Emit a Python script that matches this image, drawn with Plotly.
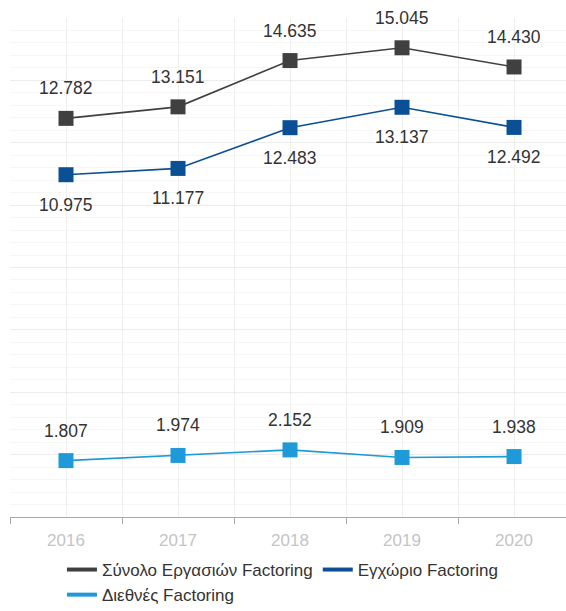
import plotly.graph_objects as go

years = ["2016", "2017", "2018", "2019", "2020"]
total = [12782, 13151, 14635, 15045, 14430]
domestic = [10975, 11177, 12483, 13137, 12492]
international = [1807, 1974, 2152, 1909, 1938]

names = ["Σύνολο Εργασιών Factoring", "Εγχώριο Factoring", "Διεθνές Factoring"]
series = [total, domestic, international]
colors = ["#404040", "#0b4f95", "#1f9ad8"]
label_shift = [30, -30, 30]

xs = list(range(len(years)))
font_family = "Liberation Sans, Arial, sans-serif"

fig = go.Figure()
for name, vals, col in zip(names, series, colors):
    fig.add_trace(go.Scatter(
        x=xs, y=vals, mode="lines+markers", name=name, showlegend=False,
        line=dict(color=col, width=1.6),
        marker=dict(symbol="square", size=15, color=col),
        hoverinfo="skip",
    ))
# legend entries (thick short lines)
for name, col in zip(names, colors):
    fig.add_trace(go.Scatter(
        x=[None], y=[None], mode="lines", name=name,
        line=dict(color=col, width=4),
    ))

annotations = []
for vals, shift in zip(series, label_shift):
    for x, v in zip(xs, vals):
        annotations.append(dict(
            x=x, y=v, xref="x", yref="y", showarrow=False,
            text=f"{v:,}".replace(",", "."), yshift=shift,
            font=dict(family=font_family, size=17.5, color="#333333"),
        ))

fig.update_layout(
    width=566, height=611,
    margin=dict(l=10, r=0, t=18, b=94),
    paper_bgcolor="white", plot_bgcolor="white",
    font=dict(family=font_family),
    annotations=annotations,
    showlegend=True,
    legend=dict(
        orientation="h", x=0.49, xanchor="center",
        yref="container", y=1 - 552 / 611, yanchor="top",
        font=dict(family=font_family, size=17, color="#333333"),
        traceorder="normal", itemwidth=30, tracegroupgap=0,
    ),
    xaxis=dict(
        range=[-0.5, 4.464], tickvals=xs, ticktext=years,
        showgrid=True, gridcolor="#efefef", gridwidth=1,
        ticks="", showline=True, linecolor="#a8a8a8", linewidth=1,
        zeroline=False,
        tickfont=dict(family=font_family, size=17, color="#c4c4c4"),
        ticklabelstandoff=8,
        minor=dict(tick0=-0.5, dtick=1, ticks="outside", ticklen=6,
                   tickcolor="#a8a8a8", showgrid=True, gridcolor="#efefef"),
    ),
    yaxis=dict(
        range=[0, 16000], dtick=2000, showticklabels=False,
        showgrid=True, gridcolor="#ececec", gridwidth=1,
        zeroline=False, showline=False, ticks="",
        minor=dict(dtick=400, showgrid=True, gridcolor="#f6f6f6"),
    ),
)

fig.write_html("out.html")
